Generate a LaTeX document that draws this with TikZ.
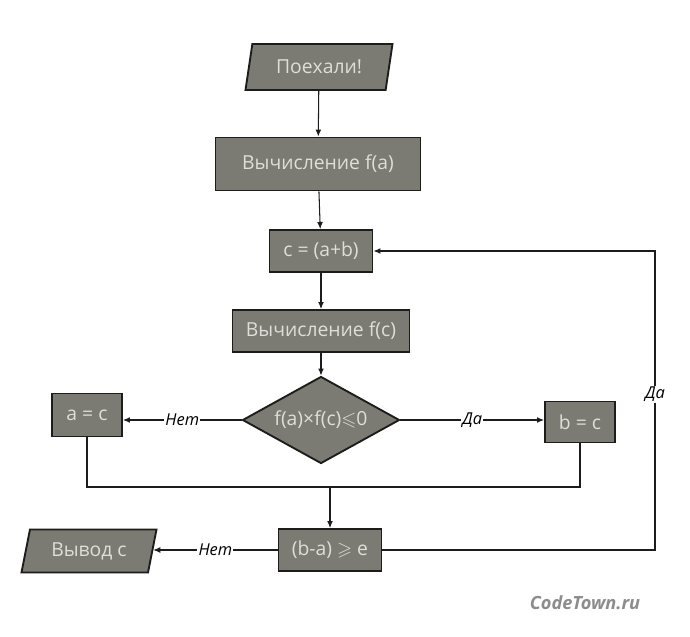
\documentclass[tikz,border=0pt]{standalone}
\usepackage{fontspec}
\usepackage{amssymb}
\setmainfont{Open Sans}
\usetikzlibrary{shapes.geometric,arrows.meta}
\definecolor{boxfill}{RGB}{123,123,115}
\definecolor{boxtext}{RGB}{222,222,218}
\definecolor{boxline}{RGB}{28,28,26}
\tikzset{
    blk/.style={draw=boxline, line width=1.6pt, fill=boxfill, text=boxtext,
        font=\fontsize{16.5}{19}\selectfont, inner sep=0pt},
    io/.style={blk, trapezium, trapezium left angle=64, trapezium right angle=116,
        trapezium stretches body},
    cond/.style={blk, diamond, aspect=1.8},
    conn/.style={line width=0.9pt, draw=boxline, -{Latex[length=6pt,width=5pt]}},
    lbl/.style={fill=white, inner sep=1pt, font=\itshape\fontsize{14}{16}\selectfont}
}
\begin{document}
\begin{tikzpicture}[x=0.03cm, y=-0.03cm]
    \useasboundingbox[fill=white] (0,0) rectangle (690,637);
    % blocks
    \node[io, minimum width=4.41cm, minimum height=1.38cm] (start) at (319,67) {Поехали!};
    \node[blk, minimum width=6.15cm, minimum height=1.59cm] (fa) at (318,164) {Вычисление f(a)};
    \node[blk, minimum width=3.09cm, minimum height=1.26cm] (c) at (321,251) {c = (a+b)};
    \node[blk, minimum width=5.31cm, minimum height=1.26cm] (fc) at (321,331) {Вычисление f(c)};
    \node[cond, minimum width=4.71cm, minimum height=2.61cm] (test) at (321,420) {f(a)×f(c)$\leqslant$0};
    \node[blk, minimum width=2.1cm, minimum height=1.29cm] (ac) at (87,415) {a = c};
    \node[blk, minimum width=2.1cm, minimum height=1.23cm] (bc) at (580,422) {b = c};
    \node[blk, minimum width=3.09cm, minimum height=1.26cm] (chk) at (330,550) {(b-a) $\geqslant$ e};
    \node[io, minimum width=4.05cm, minimum height=1.29cm] (out) at (89,551) {Вывод c};
    \coordinate (join) at (330,487);
    \coordinate (back) at (655,550);
    % connectors
    \draw[conn] (start) -- (fa);
    \draw[conn] (fa) -- (c);
    \draw[conn] (c) -- (fc);
    \draw[conn] (fc) -- (test);
    \draw[conn] (test.west) -- node[lbl] {Нет} (test.west -| ac.east);
    \draw[conn] (test.east) -- node[lbl] {Да} (test.east -| bc.west);
    \draw[line width=0.9pt, draw=boxline] (ac.south) |- (join) -| (bc.south);
    \draw[conn] (join) -- (chk);
    \draw[conn] (chk.west) -- node[lbl] {Нет} (chk.west -| out.east);
    \draw[conn] (chk.east) -- (back) |- node[lbl, pos=0.26] {Да} (c.east);
    % lecter
    \node[text=black!45, font=\bfseries\itshape\fontsize{15.5}{18}\selectfont] (site) at (585,603) {CodeTown.ru};
\end{tikzpicture}
\end{document}
